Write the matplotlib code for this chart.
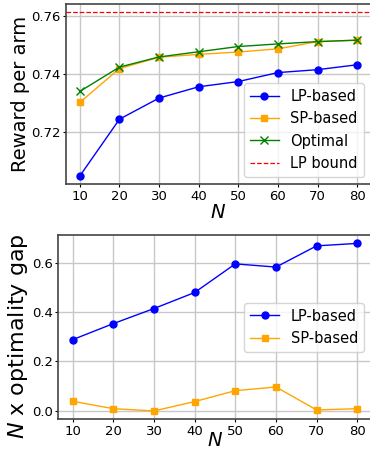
import numpy as np
import matplotlib.pyplot as plt

N = [10, 20, 30, 40, 50, 60, 70, 80]
lp_reward = [0.7047, 0.7243, 0.7316, 0.7355, 0.7373, 0.7404, 0.7414, 0.7431]
sp_reward = [0.7301, 0.7418, 0.7457, 0.7467, 0.7475, 0.7486, 0.7511, 0.7516]
opt_reward = [0.7339, 0.7423, 0.7458, 0.7476, 0.7494, 0.7503, 0.7511, 0.7516]
lp_bound = 0.7612

lp_gap = [0.288, 0.353, 0.414, 0.479, 0.595, 0.582, 0.668, 0.678]
sp_gap = [0.038, 0.008, -0.001, 0.037, 0.081, 0.096, 0.003, 0.008]

fig = plt.figure(figsize=(3.70, 4.53), dpi=100)
ax1 = fig.add_axes([0.1784, 0.5938, 0.8243, 0.3974])
ax2 = fig.add_axes([0.1581, 0.0744, 0.8459, 0.4068])

ms = 5
ax1.plot(N, lp_reward, color='blue', marker='o', ms=ms, lw=1, label='LP-based')
ax1.plot(N, sp_reward, color='orange', marker='s', ms=ms, lw=1, label='SP-based')
ax1.plot(N, opt_reward, color='green', marker='x', ms=6, lw=1, label='Optimal')
ax1.axhline(lp_bound, color='red', ls='--', lw=0.9, label='LP bound')
ax1.set_ylim(0.7019, 0.7641)
ax1.set_yticks([0.72, 0.74, 0.76])
ax1.set_ylabel('Reward per arm', fontsize=14, labelpad=1)
ax1.set_xlabel('$N$', fontsize=14, labelpad=0)
ax1.legend(loc='lower right', fontsize=10.5)

ax2.plot(N, lp_gap, color='blue', marker='o', ms=ms, lw=1, label='LP-based')
ax2.plot(N, sp_gap, color='orange', marker='s', ms=ms, lw=1, label='SP-based')
ax2.set_ylabel('$N$ x optimality gap', fontsize=16)
ax2.yaxis.set_label_coords(-0.091, 0.45)
ax2.set_xlabel('$N$', fontsize=14, labelpad=-5)
ax2.legend(loc='center right', fontsize=10.5)

for ax in (ax1, ax2):
    ax.set_xticks(N)
    ax.grid(True, color='#c8c8c8', lw=1)
    ax.tick_params(labelsize=9.5, length=2.5, pad=1.5)
    for s in ax.spines.values():
        s.set_color('#444444')
        s.set_linewidth(1.2)

fig.savefig('out.png', dpi=100)
